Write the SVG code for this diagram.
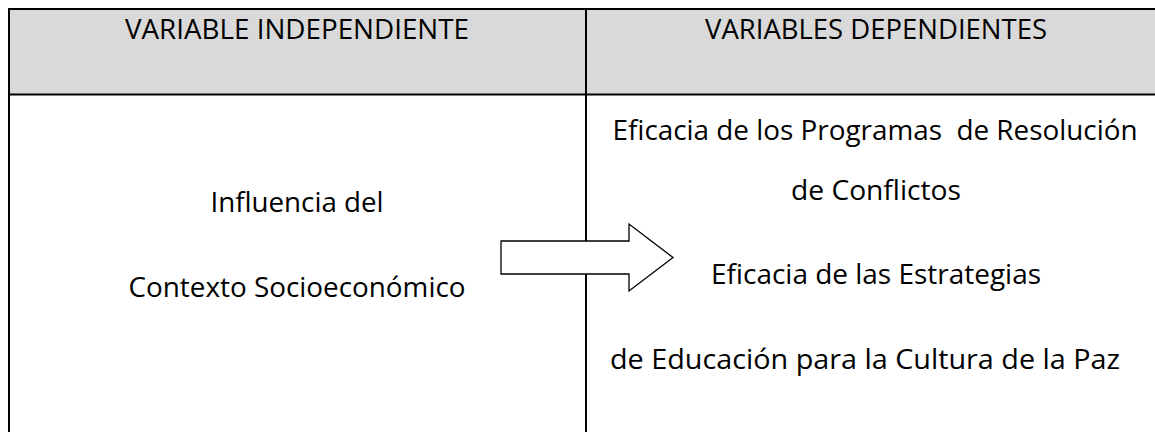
<svg xmlns="http://www.w3.org/2000/svg" width="1155" height="432" viewBox="0 0 1155 432">
  <style>
    .t { font-family: "Open Sans", "Liberation Sans", sans-serif; font-size: 28px; fill: #000; text-anchor: middle; }
    .rule { stroke: #000; stroke-width: 2; fill: none; }
    .hdr { fill: #d9d9d9; }
    .arrow { fill: #fff; stroke: #000; stroke-width: 1.3; stroke-linejoin: miter; }
  </style>
  <rect width="1155" height="432" fill="#fff"/>
  <g id="header-independiente">
    <rect class="hdr" x="9" y="9" width="577" height="85.5"/>
    <text class="t" x="297" y="39" textLength="344" lengthAdjust="spacingAndGlyphs">VARIABLE INDEPENDIENTE</text>
  </g>
  <g id="header-dependientes">
    <rect class="hdr" x="586" y="9" width="569" height="85.5"/>
    <text class="t" x="876" y="39" textLength="342" lengthAdjust="spacingAndGlyphs">VARIABLES DEPENDIENTES</text>
  </g>
  <g id="grid">
    <line class="rule" x1="9" y1="8" x2="9" y2="432"/>
    <line class="rule" x1="8" y1="9" x2="1155" y2="9"/>
    <line class="rule" x1="8" y1="94.5" x2="1155" y2="94.5"/>
    <line class="rule" x1="586" y1="8" x2="586" y2="432"/>
  </g>
  <g id="node-independiente">
    <text class="t" x="297" y="211.7" textLength="173" lengthAdjust="spacingAndGlyphs">Influencia del</text>
    <text class="t" x="297" y="296.7" textLength="337" lengthAdjust="spacingAndGlyphs">Contexto Socioeconómico</text>
  </g>
  <g id="node-dependientes">
    <text class="t" x="875" y="140" textLength="525" lengthAdjust="spacingAndGlyphs" xml:space="preserve">Eficacia de los Programas  de Resolución</text>
    <text class="t" x="876" y="200" textLength="170" lengthAdjust="spacingAndGlyphs">de Conflictos</text>
    <text class="t" x="876" y="284" textLength="330" lengthAdjust="spacingAndGlyphs">Eficacia de las Estrategias</text>
    <text class="t" x="865" y="369" textLength="510" lengthAdjust="spacingAndGlyphs">de Educación para la Cultura de la Paz</text>
  </g>
  <g id="connectors">
    <polygon class="arrow" points="501,241 629,241 629,224 673,257.5 629,291 629,274 501,274"/>
  </g>
</svg>
